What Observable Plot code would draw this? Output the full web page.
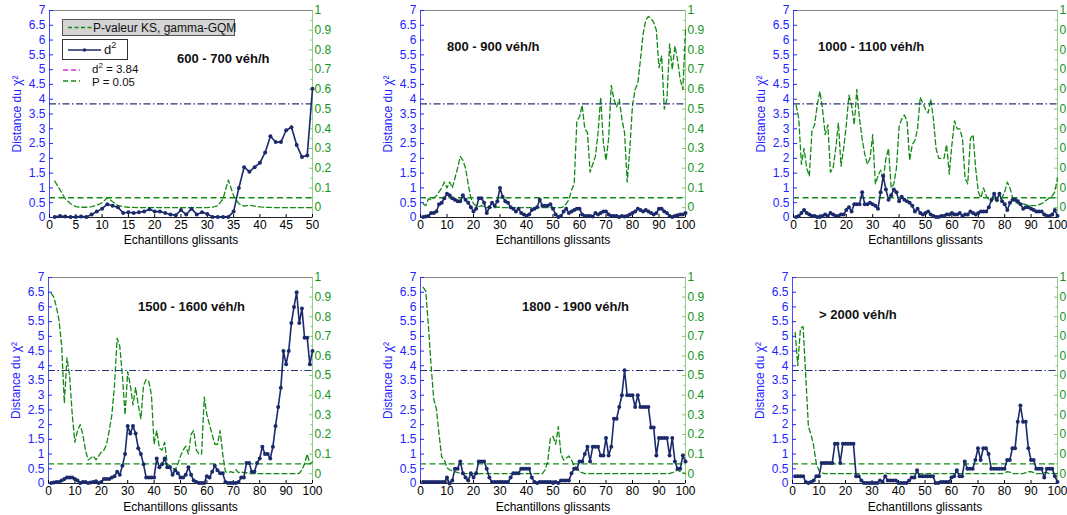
<!DOCTYPE html>
<html>
<head>
<meta charset="utf-8">
<script src="https://cdn.jsdelivr.net/npm/d3@7"></script>
<script src="https://cdn.jsdelivr.net/npm/@observablehq/plot@0.6"></script>
<style>
  html, body { margin: 0; padding: 0; background: #fff; overflow: hidden; }
  #root { position: relative; width: 1067px; height: 515px; font-family: Arial, "Liberation Sans", Helvetica, sans-serif; }
  .layer { position: absolute; }
  .layer svg { display: block; overflow: visible; }
  .ttl { position: absolute; font-weight: bold; font-size: 13px; color: #111; white-space: nowrap; line-height: 18px; }
  .lg { position: absolute; font-size: 12px; color: #111; white-space: nowrap; line-height: 13px; }
</style>
</head>
<body>
<div id="root"></div>
<script>
// ---------------- data ----------------
const titles = ["600 - 700 véh/h", "800 - 900 véh/h", "1000 - 1100 véh/h",
                "1500 - 1600 véh/h", "1800 - 1900 véh/h", "> 2000 véh/h"];

const leftTicks = [0, 0.5, 1, 1.5, 2, 2.5, 3, 3.5, 4, 4.5, 5, 5.5, 6, 6.5, 7];
const rightTicks = [0, 0.1, 0.2, 0.3, 0.4, 0.5, 0.6, 0.7, 0.8, 0.9, 1];
const rightMinor = [-0.05, 0.05, 0.15, 0.25, 0.35, 0.45, 0.55, 0.65, 0.75, 0.85, 0.95];
const xTicks50 = [0, 5, 10, 15, 20, 25, 30, 35, 40, 45, 50];
const xTicks100 = [0, 10, 20, 30, 40, 50, 60, 70, 80, 90, 100];
const leftDomain = [0, 7];
const rightDomain = [-0.05, 1];
const d2Threshold = 3.84;
const pThreshold = 0.05;

// Panel 1 : 600 - 700 veh/h (50 samples)
const d2_600 = [0.02,0.05,0.03,0.02,0.02,0.03,0.02,0.1,0.2,0.3,0.45,0.4,0.35,0.15,0.18,0.15,0.18,0.2,0.28,0.2,
  0.2,0.15,0.1,0.08,0.25,0.1,0.3,0.1,0.18,0.12,0.02,0.02,0.02,0.02,0.2,1.0,1.7,1.55,1.7,1.85,
  2.2,2.75,2.55,2.55,2.95,3.05,2.45,2.05,2.1,4.35];
const p_600 = [0.135,0.09,0.045,0.02,0.005,0.002,0.002,0.005,0.012,0.025,0.05,0.03,0.012,0.005,0.002,0.001,0,0,0,0,
  0,0,0,0,0,0,0,0,0,0,0.002,0.01,0.045,0.14,0.06,0.02,0.008,0.012,0.008,0.004,
  0.002,0.001,0,0,0,0,0,0,0,0];

// Panel 2 : 800 - 900 veh/h
const d2_800 = [0.02,0.03,0.05,0.15,0.15,0.2,0.45,0.5,0.65,0.8,0.75,0.65,0.6,0.55,0.55,0.75,0.6,0.5,0.35,0.2,
  0.3,0.65,0.65,0.5,0.15,0.35,0.5,0.4,0.55,1.0,0.7,0.55,0.5,0.35,0.3,0.2,0.3,0.15,0.1,0.05,
  0.1,0.25,0.3,0.35,0.6,0.4,0.4,0.4,0.45,0.3,0.1,0.02,0.05,0.2,0.3,0.15,0.2,0.25,0.3,0.3,
  0.1,0.05,0.05,0.05,0.03,0.15,0.1,0.15,0.2,0.2,0.1,0.05,0.05,0.05,0.02,0.05,0.03,0.05,0.1,0.15,
  0.2,0.3,0.25,0.2,0.25,0.2,0.15,0.1,0.15,0.3,0.3,0.2,0.15,0.05,0.02,0.05,0.08,0.1,0.1,0.15];
const p_800 = [0.02,0.01,0.045,0.04,0.05,0.06,0.08,0.1,0.13,0.1,0.13,0.1,0.15,0.2,0.26,0.24,0.2,0.12,0.05,0.02,
  0.01,0.005,0.01,0.005,0,0,0,0,0.002,0.002,0,0,0,0,0,0,0,0,0,0,
  0,0,0,0,0,0,0,0,0,0,0,0,0,0.005,0.02,0.04,0.09,0.12,0.44,0.46,
  0.52,0.4,0.38,0.18,0.22,0.26,0.38,0.56,0.33,0.24,0.35,0.62,0.55,0.51,0.55,0.45,0.38,0.13,0.3,0.52,
  0.6,0.63,0.75,0.88,0.95,0.97,0.96,0.94,0.9,0.71,0.77,0.5,0.55,0.83,0.7,0.82,0.75,0.65,0.6,0.9];

// Panel 3 : 1000 - 1100 veh/h
const d2_1000 = [0.02,0.05,0.15,0.25,0.15,0.1,0.05,0.05,0.02,0.02,0.05,0.1,0.05,0.15,0.1,0.05,0.05,0.1,0.1,0.25,
  0.35,0.2,0.45,0.45,0.45,0.85,0.45,0.45,0.5,0.45,0.4,0.3,0.85,1.4,0.95,0.6,0.75,0.95,0.85,0.55,
  0.7,0.6,0.55,0.5,0.4,0.2,0.3,0.15,0.1,0.15,0.2,0.1,0.05,0.02,0.02,0.05,0.05,0.1,0.1,0.15,
  0.1,0.1,0.15,0.05,0.1,0.1,0.2,0.15,0.1,0.15,0.2,0.2,0.2,0.35,0.6,0.8,0.6,0.8,0.55,0.45,
  0.25,0.5,0.6,0.6,0.55,0.45,0.3,0.35,0.35,0.3,0.25,0.2,0.2,0.2,0.1,0.05,0.05,0.1,0.25,0.05];
const p_1000 = [0.52,0.45,0.22,0.3,0.2,0.16,0.39,0.42,0.52,0.59,0.5,0.37,0.42,0.18,0.2,0.3,0.43,0.21,0.3,0.42,
  0.57,0.52,0.42,0.6,0.45,0.35,0.27,0.22,0.25,0.37,0.12,0.16,0.19,0.14,0.25,0.3,0.1,0.12,0.2,0.41,
  0.45,0.47,0.44,0.24,0.32,0.34,0.4,0.56,0.53,0.5,0.48,0.55,0.45,0.3,0.25,0.25,0.25,0.32,0.17,0.32,
  0.44,0.4,0.4,0.35,0.15,0.12,0.35,0.37,0.2,0.08,0.05,0.1,0.06,0.04,0.03,0.05,0.03,0.04,0.05,0.08,
  0.13,0.1,0.05,0.03,0.02,0.02,0.02,0.015,0.01,0.01,0.01,0.01,0.015,0.02,0.03,0.04,0.05,0.06,0.08,0.15];

// Panel 4 : 1500 - 1600 veh/h
const d2_1500 = [0.02,0.03,0.05,0.05,0.1,0.15,0.2,0.2,0.2,0.15,0.1,0.02,0.05,0.05,0.02,0.03,0.05,0.08,0.02,0.05,
  0.15,0.15,0.15,0.2,0.25,0.4,0.3,0.6,1.0,1.95,1.7,1.95,1.7,1.2,1.0,0.65,0.2,0.2,0.2,0.2,
  0.85,0.55,0.65,0.85,0.55,0.55,0.3,0.45,0.35,0.2,0.2,0.3,0.55,0.3,0.1,0.05,0.02,0.02,0.02,0.25,
  0.2,0.4,0.6,0.45,0.35,0.35,0.05,0.02,0.02,0.02,0.02,0.05,0.2,0.2,0.7,0.7,0.4,0.4,0.7,0.85,
  1.25,1.0,1.0,0.85,1.25,1.95,2.6,3.25,4.5,4.05,4.5,5.45,6.0,6.5,5.45,5.95,4.95,4.95,4.05,4.5];
const p_1500 = [0.92,0.9,0.85,0.78,0.65,0.36,0.59,0.5,0.3,0.16,0.22,0.25,0.2,0.12,0.07,0.08,0.09,0.07,0.09,0.11,
  0.12,0.15,0.22,0.3,0.45,0.69,0.65,0.5,0.3,0.52,0.45,0.35,0.44,0.35,0.28,0.45,0.48,0.47,0.4,0.15,
  0.22,0.13,0.12,0.16,0.05,0.04,0.03,0.02,0.05,0.09,0.12,0.14,0.1,0.2,0.22,0.12,0.1,0.1,0.39,0.3,
  0.25,0.2,0.15,0.15,0.22,0.1,0.01,0.005,0.01,0.005,0.02,0.005,0.01,0.005,0.005,0,0,0,0,0,
  0,0,0,0,0,0,0,0,0,0,0,0,0,0,0.002,0.02,0.05,0.1,0.05,0.06];

// Panel 5 : 1800 - 1900 veh/h
const d2_1800 = [0.05,0.05,0.05,0.05,0.05,0.05,0.05,0.05,0.05,0.2,0.0,0.1,0.5,0.5,0.75,0.35,0.2,0.1,0.35,0.2,
  0.35,0.75,0.75,0.75,0.5,0.2,0.05,0.05,0.05,0.05,0.05,0.05,0.05,0.2,0.35,0.35,0.35,0.5,0.5,0.5,
  0.5,0.2,0.05,0.02,0.05,0.05,0.05,0.05,0.05,0.02,0.05,0.02,0.1,0.1,0.1,0.1,0.35,0.5,0.5,0.75,
  0.75,1.0,1.25,0.75,1.25,1.25,1.25,0.95,0.95,1.55,0.95,1.25,2.2,2.2,2.6,3.0,3.85,3.0,3.0,3.0,
  2.6,3.0,2.6,2.6,2.6,2.6,1.9,1.9,0.95,1.55,1.55,1.55,1.55,0.95,1.55,0.75,0.5,0.5,0.95,0.75];
const p_1800 = [0.95,0.93,0.75,0.55,0.38,0.33,0.2,0.085,0.07,0.03,0.02,0.015,0.01,0.005,0.003,0,0,0,0,0,
  0,0,0,0,0,0,0,0,0,0,0,0,0,0,0,0,0,0,0,0,
  0,0,0,0,0,0,0.02,0.06,0.18,0.19,0.15,0.24,0.1,0.07,0.08,0.09,0.07,0.04,0.03,0.01,
  0.005,0,0,0,0,0,0,0,0,0,0,0,0,0,0,0,0,0,0,0,
  0,0,0,0,0,0,0,0,0,0,0,0,0,0,0.005,0.01,0.02,0.01,0.005,0];

// Panel 6 : > 2000 veh/h
const d2_2000 = [0.25,0.25,0.25,0.25,0.05,0.02,0.05,0.1,0.25,0.25,0.7,0.7,0.7,0.7,0.7,1.35,1.35,0.7,1.35,1.35,
  1.35,1.35,1.35,0.25,0.25,0.1,0.02,0.02,0.02,0.02,0.02,0.02,0.1,0.05,0.25,0.1,0.1,0.1,0.1,0.02,
  0.02,0.02,0.02,0.1,0.2,0.2,0.45,0.25,0.25,0.25,0.25,0.25,0.25,0.02,0.02,0.05,0.05,0.05,0.05,0.2,
  0.25,0.45,0.25,0.25,0.75,0.5,0.5,0.5,0.8,1.2,0.8,1.2,1.2,1.0,0.5,0.5,0.5,0.5,0.5,0.5,
  0.8,0.8,1.2,1.2,2.1,2.65,2.1,2.1,1.2,0.8,0.8,0.5,0.5,0.5,0.2,0.5,0.5,0.5,0.25,0.05];
const p_2000 = [0.72,0.55,0.74,0.75,0.5,0.24,0.2,0.14,0.05,0.015,0.005,0,0,0,0,0,0,0,0,0,
  0,0,0,0,0,0,0,0,0,0,0,0,0,0,0.005,0,0,0,0,0,
  0,0,0,0,0,0,0,0,0,0,0,0,0,0,0,0,0,0,0,0,
  0,0,0,0,0,0,0,0,0,0,0,0,0,0,0,0,0,0,0,0.005,
  0.01,0.008,0,0,0,0,0,0.005,0.01,0.01,0.005,0,0,0,0.005,0.005,0,0,0,0];

// ---------------- layout ----------------
const FONT = 'Arial, "Liberation Sans", Helvetica, sans-serif';
const navy = "#1b2a6b";
const pGreen = "#138a13";
const leftColor = "#2424ff";
const rightColor = "#14941a";

const panels = [
  {d2: d2_600,  p: p_600,  xt: xTicks50,  left: 0,   top: 0,   w: 360, h: 257, ml: 49, mr: 48, mt: 10, mb: 40, lo: 26, tx: 177, ty: 50},
  {d2: d2_800,  p: p_800,  xt: xTicks100, left: 360, top: 0,   w: 360, h: 257, ml: 60, mr: 35, mt: 10, mb: 40, lo: 26, tx: 447, ty: 38},
  {d2: d2_1000, p: p_1000, xt: xTicks100, left: 710, top: 0,   w: 357, h: 257, ml: 83, mr: 10, mt: 10, mb: 40, lo: 26, tx: 818, ty: 38},
  {d2: d2_1500, p: p_1500, xt: xTicks100, left: 0,   top: 262, w: 360, h: 253, ml: 48, mr: 48, mt: 15, mb: 32, lo: 27, tx: 138, ty: 298},
  {d2: d2_1800, p: p_1800, xt: xTicks100, left: 360, top: 262, w: 360, h: 253, ml: 60, mr: 35, mt: 15, mb: 32, lo: 27, tx: 522, ty: 298},
  {d2: d2_2000, p: p_2000, xt: xTicks100, left: 710, top: 262, w: 357, h: 253, ml: 82, mr: 10, mt: 15, mb: 32, lo: 27, tx: 819, ty: 306}
];

const root = document.getElementById("root");

function addLayer(node, cfg) {
  const div = document.createElement("div");
  div.className = "layer";
  div.style.left = cfg.left + "px";
  div.style.top = cfg.top + "px";
  div.appendChild(node);
  root.appendChild(div);
}

panels.forEach((cfg, k) => {
  const n = cfg.d2.length;
  const rows = cfg.d2.map((v, i) => ({i: i + 1, d2: v, p: cfg.p[i]}));
  const xDomain = [0, n];
  const common = {
    width: cfg.w, height: cfg.h,
    marginLeft: cfg.ml, marginRight: cfg.mr, marginTop: cfg.mt, marginBottom: cfg.mb,
    style: {background: "transparent", fontFamily: FONT, fontSize: "12px", overflow: "visible"}
  };

  // p-value layer (right axis)
  const pPlot = Plot.plot({
    ...common,
    x: {domain: xDomain, axis: null},
    y: {domain: rightDomain},
    marks: [
      Plot.ruleX([xDomain[1]], {stroke: "#8fd08f", strokeWidth: 1}),
      Plot.axisY({anchor: "right", ticks: rightMinor, tickSize: -2.5, tickFormat: () => "", stroke: "#7cc87c", label: null}),
      Plot.axisY({anchor: "right", ticks: rightTicks, tickSize: -4, tickPadding: 6, tickFormat: d => String(d),
        color: rightColor, stroke: "#7cc87c", label: null}),
      Plot.ruleY([pThreshold], {stroke: pGreen, strokeWidth: 1.4, strokeDasharray: "6,3.5"}),
      Plot.line(rows, {x: "i", y: "p", stroke: pGreen, strokeWidth: 1.3, strokeDasharray: "5,3"})
    ]
  });

  // d2 layer (left axis)
  const dPlot = Plot.plot({
    ...common,
    x: {domain: xDomain},
    y: {domain: leftDomain},
    marks: [
      Plot.ruleY([leftDomain[1]], {stroke: "#8a8a8a", strokeWidth: 1}),
      Plot.ruleY([leftDomain[0]], {stroke: "#222", strokeWidth: 1}),
      Plot.ruleX([xDomain[0]], {stroke: "#4a4aff", strokeWidth: 1}),
      Plot.axisX({ticks: cfg.xt, tickSize: -3, tickPadding: 6, tickFormat: d => String(d), color: "#000",
        label: "Echantillons glissants", labelAnchor: "center", labelOffset: cfg.lo, labelArrow: "none"}),
      Plot.axisY({ticks: leftTicks, tickSize: -4, tickPadding: 8, tickFormat: d => String(d), color: leftColor,
        label: "Distance du χ²", labelAnchor: "center", labelOffset: 37, labelArrow: "none"}),
      Plot.ruleY([d2Threshold], {stroke: "#2a3577", strokeWidth: 1.2, strokeDasharray: "7,2.5,1.5,2.5"}),
      Plot.line(rows, {x: "i", y: "d2", stroke: navy, strokeWidth: 1.6}),
      Plot.dot(rows, {x: "i", y: "d2", r: 2, fill: navy, stroke: "none"})
    ]
  });

  addLayer(pPlot, cfg);
  addLayer(dPlot, cfg);

  const t = document.createElement("div");
  t.className = "ttl";
  t.style.left = cfg.tx + "px";
  t.style.top = cfg.ty + "px";
  t.textContent = titles[k];
  root.appendChild(t);
});

// ---------------- legend (panel 1) ----------------
const legend = document.createElement("div");
legend.innerHTML = `
  <div class="lg" style="left:62px;top:19px;width:171px;height:15px;background:#d4d4d4;border:1px solid #555;line-height:14px;">
    <svg width="30" height="15" style="position:absolute;left:4px;top:0"><line x1="1" x2="27" y1="7.5" y2="7.5" stroke="${pGreen}" stroke-width="1.3" stroke-dasharray="4,2.5"/></svg>
    <span style="position:absolute;left:30px;top:1px;">P-valeur KS, gamma-GQM</span>
  </div>
  <div class="lg" style="left:62px;top:39px;width:64px;height:19px;background:#fff;border:1px solid #333;line-height:14px;">
    <svg width="36" height="19" style="position:absolute;left:4px;top:0"><line x1="1" x2="34" y1="10" y2="10" stroke="${navy}" stroke-width="1.5"/><circle cx="17.5" cy="10" r="1.8" fill="${navy}"/></svg>
    <span style="position:absolute;left:41px;top:3px;font-size:13px;">d<sup style="font-size:9px;vertical-align:6px;line-height:0">2</sup></span>
  </div>
  <div class="lg" style="left:62px;top:63px;width:110px;height:13px;font-size:11.5px;">
    <svg width="20" height="13" style="position:absolute;left:0;top:0"><line x1="1" x2="18" y1="7" y2="7" stroke="#d633d6" stroke-width="1.3" stroke-dasharray="5,3"/></svg>
    <span style="position:absolute;left:30px;top:0px;">d<sup style="font-size:8px;vertical-align:5px;line-height:0">2</sup> = 3.84</span>
  </div>
  <div class="lg" style="left:62px;top:76px;width:110px;height:13px;font-size:11.5px;">
    <svg width="20" height="13" style="position:absolute;left:0;top:0"><line x1="1" x2="18" y1="5" y2="5" stroke="${pGreen}" stroke-width="1.3" stroke-dasharray="5,3"/></svg>
    <span style="position:absolute;left:30px;top:0px;">P = 0.05</span>
  </div>`;
while (legend.firstElementChild) root.appendChild(legend.firstElementChild);
</script>
</body>
</html>
